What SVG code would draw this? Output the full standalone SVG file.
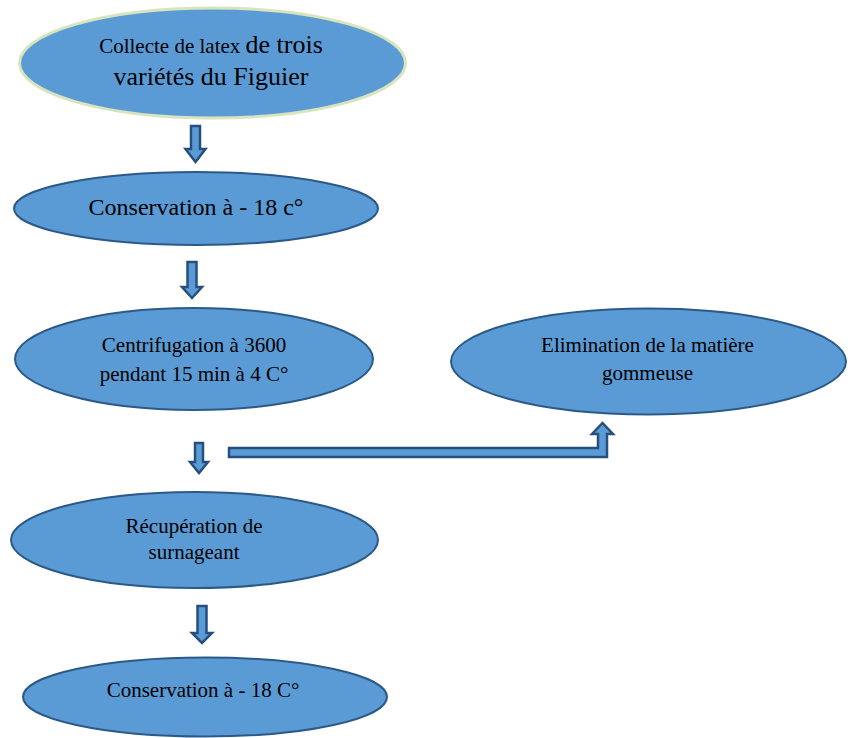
<svg xmlns="http://www.w3.org/2000/svg" width="855" height="738" viewBox="0 0 855 738">
<style>
.node{fill:#5B9BD5;stroke:#2C5A88;stroke-width:2}
.first{stroke:#D7E4BD;stroke-width:3}
.arrow{fill:#5B9BD5;stroke:#25507D;stroke-width:2.5;stroke-linejoin:miter}
text{font-family:"Liberation Serif","Times New Roman",serif;fill:#000;text-anchor:middle}
</style>
<rect width="855" height="738" fill="#fff"/>
<g id="connectors">
<polygon class="arrow" points="191,126 200,126 200,149 205.5,149 195.5,162 185.5,149 191,149"/>
<polygon class="arrow" points="187.5,262 196.5,262 196.5,287 202,287 192,298 182,287 187.5,287"/>
<polygon class="arrow" points="195,443 203,443 203,462 208,462 199,473 190,462 195,462"/>
<polygon class="arrow" points="197.5,606 206.5,606 206.5,633 212,633 202,643 192,633 197.5,633"/>
<polygon class="arrow" points="229,448 598,448 598,434 592,434 602.5,423 613,434 607,434 607,457 229,457"/>
</g>
<g id="n1">
<ellipse class="node first" cx="212.5" cy="63" rx="193" ry="55"/>
<text x="211" y="53"><tspan font-size="21">Collecte de latex </tspan><tspan font-size="26">de trois</tspan></text>
<text x="211" y="85" font-size="26">variétés du Figuier</text>
</g>
<g id="n2">
<ellipse class="node" cx="196" cy="208.5" rx="182" ry="36.5"/>
<text x="196" y="215" font-size="24">Conservation à - 18 c°</text>
</g>
<g id="n3">
<ellipse class="node" cx="194" cy="359" rx="179" ry="51"/>
<text x="194" y="352" font-size="21">Centrifugation à 3600</text>
<text x="194" y="381" font-size="21">pendant 15 min à 4 C°</text>
</g>
<g id="n4">
<ellipse class="node" cx="648.5" cy="361.5" rx="197.5" ry="53"/>
<text x="647.5" y="352" font-size="21">Elimination de la matière</text>
<text x="647.5" y="380" font-size="21">gommeuse</text>
</g>
<g id="n5">
<ellipse class="node" cx="194.5" cy="540" rx="183.5" ry="48"/>
<text x="194" y="533" font-size="21">Récupération de</text>
<text x="194" y="559" font-size="21">surnageant</text>
</g>
<g id="n6">
<ellipse class="node" cx="205" cy="697" rx="182" ry="39.5"/>
<text x="203" y="697" font-size="21">Conservation à - 18 C°</text>
</g>
</svg>
